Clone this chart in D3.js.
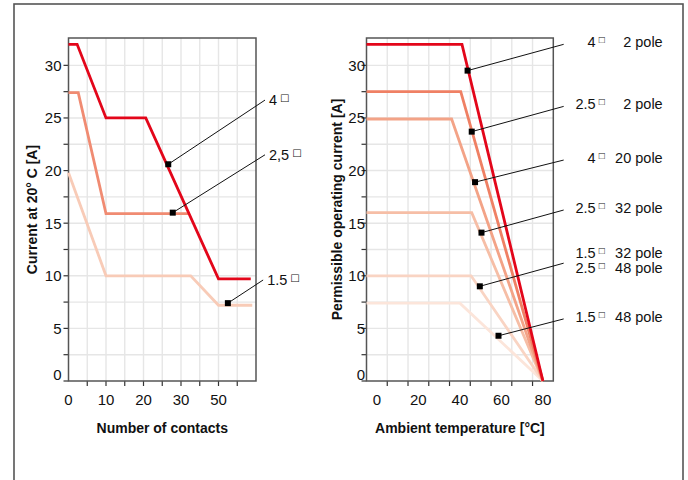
<!DOCTYPE html>
<html><head><meta charset="utf-8">
<script src="https://cdn.jsdelivr.net/npm/d3@7/dist/d3.min.js"></script>
<style>
body{margin:0;background:#fff}
text{font-family:"Liberation Sans",Arial,sans-serif;fill:#111}
</style></head>
<body><svg id="c" width="688" height="480"></svg>
<script>
// ---------- data ----------
const yTickLabels = [0, 5, 10, 15, 20, 25, 30];
const yGridValues = [2.5, 5, 7.5, 10, 12.5, 15, 17.5, 20, 22.5, 25, 27.5, 30];
const yTickMarks = [0, 2.5, 5, 7.5, 10, 12.5, 15, 17.5, 20, 22.5, 25, 27.5, 30];

const contactTickLabels = [0, 10, 20, 30, 50];
const contactGridValues = [5, 10, 15, 20, 25, 30, 40, 50, 55];

const tempTickLabels = [0, 20, 40, 60, 80];
const tempGridValues = [5, 15, 25, 35, 45, 55, 65, 75];

// left chart: current at 20°C vs number of contacts
const contacts4 = [[0, 32], [2.3, 32], [10, 25], [20.6, 25], [50, 9.7], [58.6, 9.7]];
const contacts25 = [[0, 27.4], [2.6, 27.4], [10, 15.9], [34.4, 15.9]];
const contacts15 = [[0, 19.8], [10, 10], [35.2, 10], [50, 7.2], [59, 7.2]];
const contactLabels = ["4", "2,5", "1.5"];
const contactMarkers = [[26.6, 20.6], [27.8, 16.0], [52.5, 7.4]];
const contactLabelEnds = [[62.4, 26.7], [62.4, 21.5], [61.9, 9.6]];

// right chart: permissible operating current vs ambient temperature
const temp4p2 = [[-5, 32], [41, 32], [80, 0]];
const temp25p2 = [[-5, 27.5], [40.4, 27.5], [80, 0]];
const temp4p20 = [[-5, 24.9], [36, 24.9], [80, 0]];
const temp25p32 = [[-5, 16], [45.7, 16], [80, 0]];
const temp15p32 = [[-5, 10], [45.4, 10], [80, 0]];
const temp15p48 = [[-5, 7.4], [40, 7.4], [80, 0]];
const tempLabelSizes = [["4"], ["2.5"], ["4"], ["2.5"], ["1.5", "2.5"], ["1.5"]];
const tempLabelPoles = [["2 pole"], ["2 pole"], ["20 pole"], ["32 pole"], ["32 pole", "48 pole"], ["48 pole"]];
const tempMarkers = [[43.7, 29.5], [45.7, 23.7], [47.3, 18.9], [50.4, 14.1], [49.6, 9.0], [58.6, 4.3]];
const tempLabelEnds = [[90, 32.0], [90, 26.1], [90, 21.0], [90, 16.25], [90, 11.2], [90, 5.9]];

// ---------- layout ----------
const svg = d3.select("#c");
const plotTop = 38, plotBottom = 381;
const leftX0 = 68.5, leftW = 187.5;
const rightX0 = 366.5, rightW = 186.8;
const gridColor = "#e6e6e6", axisColor = "#555";
const colRed = "#e3061a";

svg.append("rect").attr("x", 14).attr("y", 4).attr("width", 669).attr("height", 520)
  .attr("fill", "none").attr("stroke", "#555").attr("stroke-width", 1.6);

const y = d3.scaleLinear().domain([0, 32.6]).range([plotBottom, plotTop]);

// broken contacts axis: 30 -> 50 occupies one 10-unit step
const u = leftW / 50;
const xL = d3.scaleLinear().domain([0, 30, 50, 60])
  .range([leftX0, leftX0 + 30 * u, leftX0 + 40 * u, leftX0 + 50 * u]);
const xR = d3.scaleLinear().domain([-5, 85]).range([rightX0, rightX0 + rightW]);

function panel(x, x0, w, gridX, tickLabelsX, xTitle, yTitle, yTitleX, yLabelGap) {
  const g = svg.append("g");
  g.selectAll(".gx").data(gridX).enter().append("line")
    .attr("x1", d => x(d)).attr("x2", d => x(d)).attr("y1", plotTop).attr("y2", plotBottom)
    .attr("stroke", gridColor).attr("stroke-width", 1.4);
  g.selectAll(".gy").data(yGridValues).enter().append("line")
    .attr("x1", x0).attr("x2", x0 + w).attr("y1", d => y(d)).attr("y2", d => y(d))
    .attr("stroke", gridColor).attr("stroke-width", 1.4);
  g.selectAll(".tx").data(gridX).enter().append("line")
    .attr("x1", d => x(d)).attr("x2", d => x(d)).attr("y1", plotBottom).attr("y2", plotBottom + 5)
    .attr("stroke", "#333").attr("stroke-width", 1.2);
  g.selectAll(".ty").data(yTickMarks).enter().append("line")
    .attr("x1", x0 - 5).attr("x2", x0).attr("y1", d => y(d)).attr("y2", d => y(d))
    .attr("stroke", "#333").attr("stroke-width", 1.2);
  g.append("rect").attr("x", x0).attr("y", plotTop).attr("width", w).attr("height", plotBottom - plotTop)
    .attr("fill", "none").attr("stroke", axisColor).attr("stroke-width", 1.5);
  g.selectAll(".lx").data(tickLabelsX).enter().append("text")
    .attr("x", d => x(d)).attr("y", plotBottom + 24).attr("text-anchor", "middle")
    .attr("font-size", 15).text(d => d);
  g.selectAll(".ly").data(yTickLabels).enter().append("text")
    .attr("x", x0 - yLabelGap).attr("y", d => y(d) - (d === 0 ? 6 : 0)).attr("dy", "0.36em")
    .attr("text-anchor", "end").attr("font-size", 15).text(d => d);
  g.append("text").attr("x", x0 + w / 2).attr("y", 433).attr("text-anchor", "middle")
    .attr("font-size", 14).attr("font-weight", "bold").text(xTitle);
  g.append("text").attr("transform", `translate(${yTitleX},${(plotTop + plotBottom) / 2}) rotate(-90)`)
    .attr("text-anchor", "middle").attr("dy", "0.36em")
    .attr("font-size", 14).attr("font-weight", "bold").text(yTitle);
  return g;
}

function drawLines(g, x, series, colors, width) {
  const line = d3.line().x(d => x(d[0])).y(d => y(d[1]));
  series.forEach((s, i) => {
    g.append("path").attr("d", line(s)).attr("fill", "none")
      .attr("stroke", colors[i]).attr("stroke-width", width).attr("stroke-linejoin", "miter");
  });
}

function drawMarkers(g, x, markers, ends) {
  markers.forEach((m, i) => {
    g.append("line").attr("x1", x(m[0])).attr("y1", y(m[1]))
      .attr("x2", x(ends[i][0])).attr("y2", y(ends[i][1]))
      .attr("stroke", "#111").attr("stroke-width", 1);
    g.append("rect").attr("x", x(m[0]) - 3).attr("y", y(m[1]) - 3)
      .attr("width", 6).attr("height", 6).attr("fill", "#000");
  });
}

function sizeLabel(g, xPos, yPos, txt) {
  const t = g.append("text").attr("x", xPos).attr("y", yPos).attr("font-size", 14.5);
  t.append("tspan").text(txt);
  t.append("tspan").attr("dx", 3).attr("font-size", 10).attr("dy", -4)
    .attr("font-family", "DejaVu Sans").text("□");
}

// ---------- left panel ----------
const gL = panel(xL, leftX0, leftW, contactGridValues, contactTickLabels,
  "Number of contacts", "Current at 20° C [A]", 32, 7);
drawLines(gL, xL, [contacts15, contacts25, contacts4], ["#f8cbb7", "#f08b72", colRed], 2.8);
drawMarkers(gL, xL, contactMarkers, contactLabelEnds);
contactLabels.forEach((lab, i) => {
  sizeLabel(gL, xL(contactLabelEnds[i][0]) + 4, y(contactLabelEnds[i][1]) + 5, lab);
});

// ---------- right panel ----------
const gR = panel(xR, rightX0, rightW, tempGridValues, tempTickLabels,
  "Ambient temperature [°C]", "Permissible operating current [A]", 337, 1.5);
drawLines(gR, xR, [temp15p48, temp15p32, temp25p32, temp4p20, temp25p2, temp4p2],
  ["#fce5da", "#f9d4c3", "#f6bea6", "#f3a387", "#ef8064", colRed], 2.8);
drawMarkers(gR, xR, tempMarkers, tempLabelEnds);
tempLabelEnds.forEach((e, i) => {
  const n = tempLabelSizes[i].length;
  tempLabelSizes[i].forEach((s, j) => {
    const yy = y(e[1]) + 3 + (n > 1 ? (j === 0 ? -8 : 7) : 0);
    gR.append("text").attr("x", xR(e[0]) + 32).attr("y", yy)
      .attr("font-size", 14.5).attr("text-anchor", "end").text(s);
    gR.append("text").attr("x", xR(e[0]) + 35).attr("y", yy - 4).attr("font-size", 10)
      .attr("font-family", "DejaVu Sans").text("□");
    gR.append("text").attr("x", xR(e[0]) + 99).attr("y", yy)
      .attr("font-size", 14.5).attr("text-anchor", "end").text(tempLabelPoles[i][j]);
  });
});
</script></body></html>
